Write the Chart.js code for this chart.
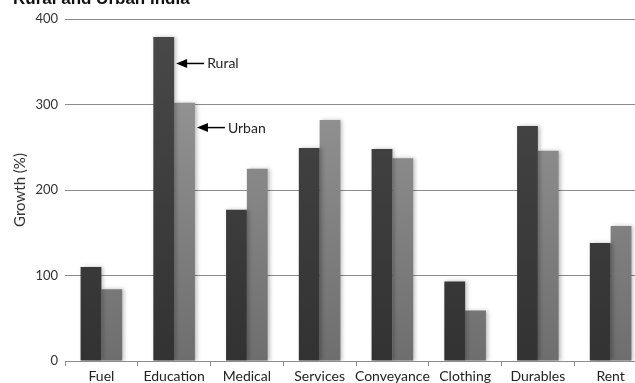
<!DOCTYPE html>
<html>
<head>
<meta charset="utf-8">
<script src="https://cdn.jsdelivr.net/npm/chart.js@4/dist/chart.umd.min.js"></script>
<style>
    html, body { margin: 0; padding: 0; background: #fff; overflow: hidden; }
    #wrap { position: relative; width: 660px; height: 383px; }
</style>
</head>
<body>
<div id="wrap"><canvas id="gastosChart" width="660" height="383"></canvas></div>
<script>
const categorias = ["Fuel", "Education", "Medical", "Services", "Conveyance", "Clothing", "Durables", "Rent"];
const rural = [110, 379, 177, 249, 248, 93, 275, 138];
const urbano = [84, 302, 225, 282, 237, 59, 246, 158];
const yTicks = [0, 100, 200, 300, 400];

const titulo = "Rural and Urban India";
const eixoY = "Growth (%)";

// Etiquetas com seta apontando para as barras de Education
const rotulos = [
    { dataset: 0, index: 1, valor: 348, texto: "Rural" },
    { dataset: 1, index: 1, valor: 273, texto: "Urban" }
];

const fonte = "Lato, 'Liberation Sans', sans-serif";

// gradiente vertical das barras
const gradiente = (topo, base) => (context) => {
    const { chart } = context;
    const area = chart.chartArea;
    if (!area) return base;
    const g = chart.ctx.createLinearGradient(0, area.top, 0, area.bottom);
    g.addColorStop(0, topo);
    g.addColorStop(1, base);
    return g;
};

const sombraPlugin = {
    id: 'sombra',
    beforeDatasetsDraw: (chart) => {
        const ctx = chart.ctx;
        ctx.save();
        ctx.shadowColor = 'rgba(0,0,0,0.25)';
        ctx.shadowBlur = 4;
        ctx.shadowOffsetX = 2;
        ctx.shadowOffsetY = 0;
    },
    afterDatasetsDraw: (chart) => {
        chart.ctx.restore();
    }
};

const setasPlugin = {
    id: 'setas',
    afterDraw: (chart) => {
        const ctx = chart.ctx;
        const y = chart.scales.y;
        ctx.save();
        rotulos.forEach(r => {
            const bar = chart.getDatasetMeta(r.dataset).data[r.index];
            const px = bar.x + bar.width / 2 + 2;
            const py = y.getPixelForValue(r.valor);
            ctx.fillStyle = '#000';
            ctx.strokeStyle = '#000';
            ctx.lineWidth = 1.5;
            ctx.beginPath();
            ctx.moveTo(px, py);
            ctx.lineTo(px + 11, py - 4.5);
            ctx.lineTo(px + 11, py + 4.5);
            ctx.closePath();
            ctx.fill();
            ctx.beginPath();
            ctx.moveTo(px + 10, py);
            ctx.lineTo(px + 28, py);
            ctx.stroke();
            ctx.font = `14px ${fonte}`;
            ctx.textBaseline = 'middle';
            ctx.fillStyle = '#222';
            ctx.fillText(r.texto, px + 31, py + 0.5);
        });
        // título cortado no topo
        ctx.font = "bold 17px 'Liberation Sans Narrow', 'Liberation Sans', sans-serif";
        ctx.textBaseline = 'alphabetic';
        ctx.fillStyle = '#111';
        ctx.fillText(titulo, 13, 4);
        ctx.restore();
    }
};

const ctx = document.getElementById('gastosChart').getContext('2d');
new Chart(ctx, {
    type: 'bar',
    data: {
        labels: categorias,
        datasets: [{
            label: 'Rural',
            data: rural,
            backgroundColor: gradiente('#494949', '#323232'),
            borderWidth: 0
        }, {
            label: 'Urban',
            data: urbano,
            backgroundColor: gradiente('#9d9d9d', '#6e6e6e'),
            borderWidth: 0
        }]
    },
    options: {
        responsive: false,
        animation: false,
        devicePixelRatio: 1,
        layout: { padding: { top: 19, right: 13, left: 11, bottom: 0 } },
        datasets: {
            bar: { categoryPercentage: 0.572, barPercentage: 1 }
        },
        scales: {
            x: {
                grid: {
                    drawOnChartArea: false,
                    tickLength: 5,
                    color: '#8c8c8c'
                },
                border: { color: '#8c8c8c' },
                ticks: {
                    color: '#222',
                    font: { family: fonte, size: 14 },
                    padding: 2,
                    maxRotation: 0,
                    autoSkip: false
                },
                afterFit: (scale) => { scale.height = 22; }
            },
            y: {
                min: 0,
                max: 400,
                afterBuildTicks: (scale) => {
                    scale.ticks = yTicks.map(v => ({ value: v }));
                },
                grid: {
                    color: '#8c8c8c',
                    drawTicks: false
                },
                border: { display: false },
                ticks: {
                    color: '#333',
                    font: { family: fonte, size: 13 },
                    padding: 7
                },
                title: {
                    display: true,
                    text: eixoY,
                    color: '#333',
                    font: { family: fonte, size: 15 },
                    padding: { top: 0, bottom: 6 }
                },
                afterFit: (scale) => { scale.width = 54; }
            }
        },
        plugins: {
            legend: { display: false },
            tooltip: { enabled: false }
        }
    },
    plugins: [sombraPlugin, setasPlugin]
});
</script>
</body>
</html>
